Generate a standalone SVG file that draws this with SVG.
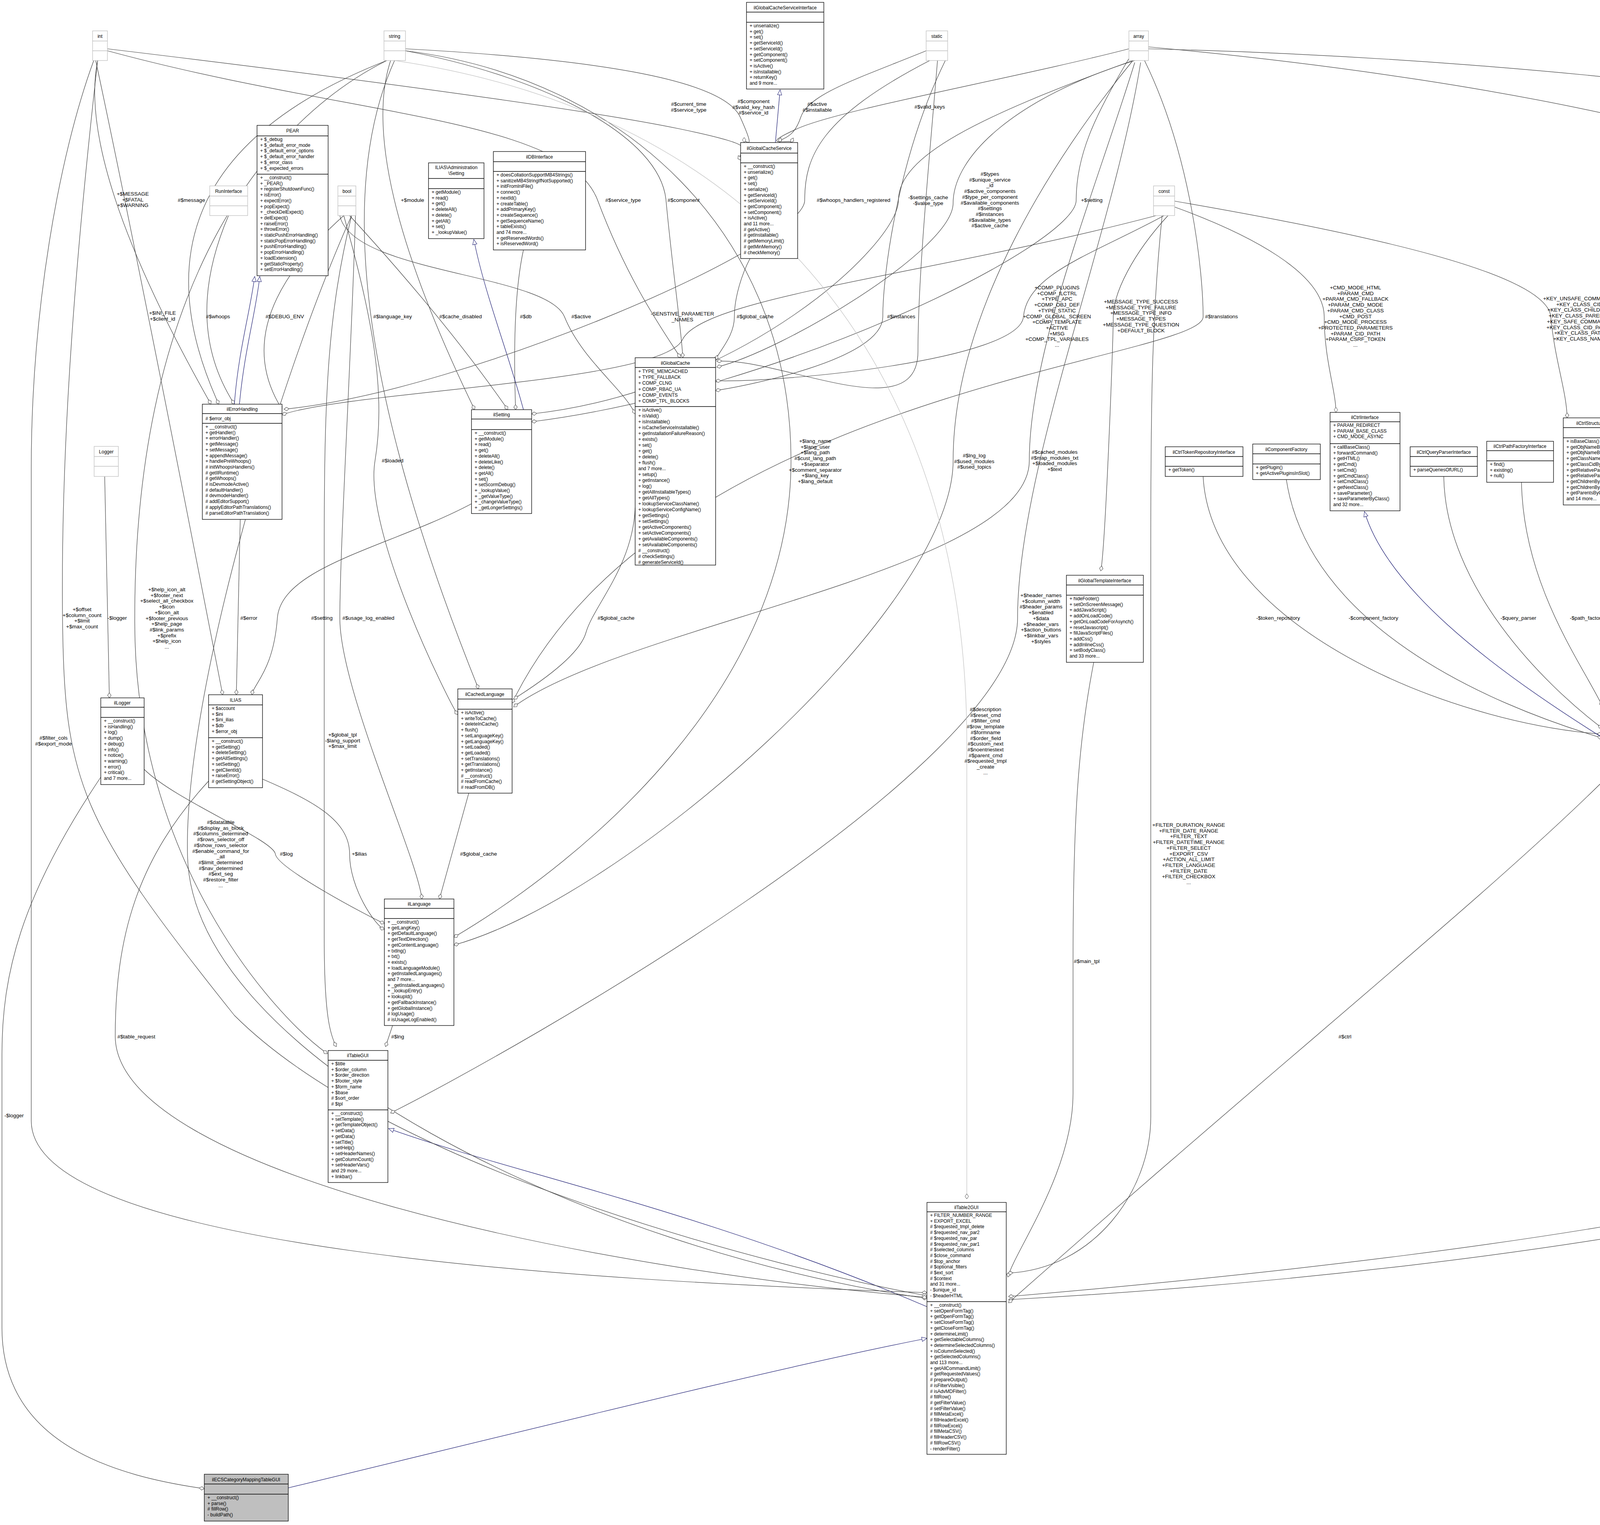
<svg xmlns="http://www.w3.org/2000/svg" width="5475" height="3905" viewBox="0 0 5475 3905">
<style>
text{font-family:"Liberation Sans",Arial,sans-serif;font-size:12px;fill:#000}
.h,.l{text-anchor:middle}
.l{font-size:13.5px}
.c rect{fill:#fff;stroke:#000;stroke-width:1.3}
.c line{stroke:#000;stroke-width:1.3}
.t rect{fill:#fff;stroke:#bfbfbf;stroke-width:1.3}
.t line{stroke:#bfbfbf;stroke-width:1.3}
.e path{fill:none;stroke:#404040;stroke-width:1.2;marker-end:url(#d)}
.e path.i{stroke:#191970;marker-end:url(#tr)}
.e path.g{stroke:#bfbfbf}
</style>
<defs>
<marker id="d" markerWidth="16" markerHeight="12" refX="14" refY="6" orient="auto" markerUnits="userSpaceOnUse"><path d="M1,6 L7.5,1.5 L14,6 L7.5,10.5 z" fill="#fff" stroke="#404040"/></marker>
<marker id="tr" markerWidth="16" markerHeight="14" refX="14" refY="7" orient="auto" markerUnits="userSpaceOnUse"><path d="M1,1.5 L14,7 L1,12.5 z" fill="#fff" stroke="#191970"/></marker>
</defs>
<rect width="5475" height="3905" fill="#fff"/>
<g id="connectors" class="e">
<path d="M250,155 Q195,425 540,1035"/>
<path d="M990,155 Q285,431 560,1035"/>
<path d="M585,552 Q467,828 600,1035"/>
<path d="M880,552 Q579,822 722,1048"/>
<path class="i" d="M600,1035 C610,900 640,800 652,708"/>
<path class="i" d="M613,1035 C625,900 655,800 665,708"/>
<path d="M245,155 Q352,655 570,1779"/>
<path d="M1000,155 Q912,424 1215,1049"/>
<path d="M1010,155 Q782,662 1225,1764"/>
<path d="M895,552 Q1142,821 1300,1049"/>
<path d="M1340,640 Q1310,777 1320,1049"/>
<path class="i" d="M1340,1049 C1300,900 1240,750 1213,613"/>
<path d="M275,125 C900,200 1500,280 1740,330 S1880,380 1896,410"/>
<path d="M1038,125 C1500,150 1850,200 1895,300 S1905,350 1905,365"/>
<path d="M2371,130 C2200,200 2070,240 2050,300 S2000,350 1995,365"/>
<path d="M2890,125 C2600,200 2150,280 2040,330 S2030,355 2025,365"/>
<path class="i" d="M1985,365 L1997,230"/>
<path d="M2400,155 C2380,400 2350,700 2350,900 S2000,915 1835,925"/>
<path d="M275,130 C900,300 1450,300 1530,513 S1700,850 1742,916"/>
<path d="M1038,130 C1400,200 1690,350 1705,513 S1745,850 1748,916"/>
<path d="M2380,155 C2100,300 2060,400 2060,513 S1200,1000 727,1048"/>
<path d="M2900,155 C2500,300 2300,400 2300,513 S1900,1000 1361,1060"/>
<path d="M2905,155 C2600,250 2440,400 2440,520 S2000,900 1835,940"/>
<path d="M2890,150 C2800,300 2755,400 2755,513 S2000,1000 1361,1080"/>
<path d="M870,552 C900,700 1400,700 1445,811 S1600,1000 1626,1060"/>
<path d="M2960,552 C2400,700 1800,760 1747,870 S900,1000 722,1062"/>
<path d="M1920,662 C1900,700 1880,760 1880,811 S1840,900 1832,922"/>
<path d="M2420,155 C2300,400 2260,700 2260,811 S1900,990 1832,1000"/>
<path d="M2980,552 C2800,650 2630,700 2620,811 S2000,980 1832,975"/>
<path d="M2990,552 C2900,650 2850,750 2850,811 S2830,1400 2818,1462"/>
<path d="M2930,155 C3050,400 3080,700 3080,811 S1700,1000 1311,1800"/>
<path d="M3007,530 C3200,600 3390,700 3390,811 S3420,1000 3420,1056"/>
<path d="M3007,515 C3500,600 3960,700 3970,811 S4010,1000 4012,1070"/>
<path d="M2940,120 C3800,200 5050,400 5050,811 S5074,1500 4298,1975"/>
<path d="M2940,125 C4000,150 5340,300 5340,520 L5340,2740 C5340,3000 4000,3250 2582,3328"/>
<path d="M5205,1220 L5224,1400 L5224,2720 C5224,3000 4000,3200 2582,3320"/>
<path d="M5195,1220 C5150,1400 5100,1500 5100,1583 S4900,1850 4298,1960"/>
<path d="M4975,1220 C4970,1400 4960,1700 4298,1955"/>
<path d="M4800,1293 C4780,1600 4600,1800 4298,1950"/>
<path d="M4588,1228 C4590,1500 4450,1750 4298,1840"/>
<path d="M4378,1235 C4360,1400 4300,1600 4285,1722"/>
<path d="M4245,1220 C4240,1400 4215,1600 4212,1722"/>
<path d="M4098,1293 C4100,1400 4120,1600 4143,1722"/>
<path d="M3895,1235 C3900,1500 4050,1700 4102,1808"/>
<path d="M3696,1220 C3700,1500 3950,1750 4102,1865"/>
<path d="M3293,1228 C3350,1600 3800,1800 4102,1890"/>
<path d="M3080,1220 C3100,1600 3700,1850 4102,1880"/>
<path class="i" d="M4104,1890 C3800,1700 3550,1500 3493,1310"/>
<path d="M4104,2000 C3800,2300 3300,2700 2582,3336"/>
<path d="M2800,1696 C2760,1900 2747,2100 2747,2462 L2747,2800 C2747,3000 2600,3200 2580,3270"/>
<path d="M2975,552 C2950,800 2946,1000 2946,1400 L2946,2860 C2946,3050 2800,3250 2580,3260"/>
<path class="i" d="M2373,3346 C1800,3100 1300,3000 995,2890"/>
<path class="i" d="M738,3810 C1400,3650 2000,3500 2373,3427"/>
<path d="M258,1990 C50,2300 5,2500 5,2700 L5,3400 C5,3700 300,3780 523,3812"/>
<path d="M268,1220 L280,1787"/>
<path d="M240,155 C150,400 80,800 80,1200 L80,2870 C80,3200 1500,3280 2373,3310"/>
<path d="M250,155 C200,600 155,1100 160,1580 C165,2000 200,2100 600,2600 C1000,3000 2000,3250 2373,3318"/>
<path d="M990,155 C700,300 345,700 345,1580 C340,2200 700,2600 838,2698"/>
<path d="M900,552 C700,1000 470,1800 480,2190 C490,2700 1500,3200 2373,3325"/>
<path d="M615,1330 L605,1779"/>
<path d="M1207,1290 C1000,1400 720,1450 710,1583 S650,1750 645,1779"/>
<path d="M910,552 C900,900 870,1400 870,1583 S1070,2200 1080,2302"/>
<path d="M1626,1300 C1620,1450 1520,1550 1500,1620 S1330,1780 1315,1790"/>
<path d="M880,552 C950,800 990,1000 960,1180 S1150,1800 1172,1830"/>
<path d="M369,1970 C450,2050 700,2150 705,2187 S950,2350 984,2365"/>
<path d="M672,1995 C800,2050 895,2100 895,2187 S960,2370 984,2380"/>
<path d="M1200,2031 L1125,2302"/>
<path d="M1038,130 C1600,200 2025,600 2025,1180 S1500,2200 1162,2400"/>
<path d="M2900,155 C2700,400 2440,800 2440,1180 S1600,2300 1162,2420"/>
<path d="M2905,160 C2800,500 2635,900 2635,1180 S1600,1600 1315,1810"/>
<path d="M2920,160 C2850,600 2605,1200 2605,1583 S1300,2700 1000,2850"/>
<path class="g" d="M1010,155 C2000,300 2475,1000 2475,1900 L2475,3070"/>
<path d="M534,2000 C350,2200 295,2400 295,2655 C300,3000 1500,3250 2373,3322"/>
<path d="M1005,2626 L987,2680"/>
<path d="M900,552 C840,800 830,1000 830,1400 L830,2400 C830,2600 845,2650 861,2680"/>
</g>
<g id="labels">
<text class="l" x="340" y="501"><tspan x="340">+$MESSAGE</tspan><tspan x="340" dy="14.7">+$FATAL</tspan><tspan x="340" dy="14.7">+$WARNING</tspan></text>
<text class="l" x="490" y="517">#$message</text>
<text class="l" x="1056" y="517">+$module</text>
<text class="l" x="416" y="806"><tspan x="416">+$INI_FILE</tspan><tspan x="416" dy="14.7">+$client_id</tspan></text>
<text class="l" x="558" y="815">#$whoops</text>
<text class="l" x="729" y="815">#$DEBUG_ENV</text>
<text class="l" x="1005" y="815">#$language_key</text>
<text class="l" x="1179" y="815">#$cache_disabled</text>
<text class="l" x="1346" y="815">#$db</text>
<text class="l" x="1763" y="271"><tspan x="1763">#$current_time</tspan><tspan x="1763" dy="14.7">#$service_type</tspan></text>
<text class="l" x="1929" y="264"><tspan x="1929">#$component</tspan><tspan x="1929" dy="14.7">#$valid_key_hash</tspan><tspan x="1929" dy="14.7">#$service_id</tspan></text>
<text class="l" x="2092" y="271"><tspan x="2092">#$active</tspan><tspan x="2092" dy="14.7">#$installable</tspan></text>
<text class="l" x="2380" y="278">#$valid_keys</text>
<text class="l" x="1595" y="517">#$service_type</text>
<text class="l" x="1750" y="517">#$component</text>
<text class="l" x="2185" y="517">#$whoops_handlers_registered</text>
<text class="l" x="2376" y="510"><tspan x="2376">-$settings_cache</tspan><tspan x="2376" dy="14.7">-$value_type</tspan></text>
<text class="l" x="2534" y="450"><tspan x="2534">#$types</tspan><tspan x="2534" dy="14.7">#$unique_service</tspan><tspan x="2534" dy="14.7">_id</tspan><tspan x="2534" dy="14.7">#$active_components</tspan><tspan x="2534" dy="14.7">#$type_per_component</tspan><tspan x="2534" dy="14.7">#$available_components</tspan><tspan x="2534" dy="14.7">#$settings</tspan><tspan x="2534" dy="14.7">#$instances</tspan><tspan x="2534" dy="14.7">#$available_types</tspan><tspan x="2534" dy="14.7">#$active_cache</tspan></text>
<text class="l" x="2795" y="517">+$setting</text>
<text class="l" x="1488" y="815">#$active</text>
<text class="l" x="1747" y="808"><tspan x="1747">-SENSTIVE_PARAMETER</tspan><tspan x="1747" dy="14.7">_NAMES</tspan></text>
<text class="l" x="1933" y="815">#$global_cache</text>
<text class="l" x="2307" y="815">#$instances</text>
<text class="l" x="2706" y="741"><tspan x="2706">+COMP_PLUGINS</tspan><tspan x="2706" dy="14.7">+COMP_ILCTRL</tspan><tspan x="2706" dy="14.7">+TYPE_APC</tspan><tspan x="2706" dy="14.7">+COMP_OBJ_DEF</tspan><tspan x="2706" dy="14.7">+TYPE_STATIC</tspan><tspan x="2706" dy="14.7">+COMP_GLOBAL_SCREEN</tspan><tspan x="2706" dy="14.7">+COMP_TEMPLATE</tspan><tspan x="2706" dy="14.7">+ACTIVE</tspan><tspan x="2706" dy="14.7">+MSG</tspan><tspan x="2706" dy="14.7">+COMP_TPL_VARIABLES</tspan><tspan x="2706" dy="14.7">...</tspan></text>
<text class="l" x="2921" y="777"><tspan x="2921">+MESSAGE_TYPE_SUCCESS</tspan><tspan x="2921" dy="14.7">+MESSAGE_TYPE_FAILURE</tspan><tspan x="2921" dy="14.7">+MESSAGE_TYPE_INFO</tspan><tspan x="2921" dy="14.7">+MESSAGE_TYPES</tspan><tspan x="2921" dy="14.7">+MESSAGE_TYPE_QUESTION</tspan><tspan x="2921" dy="14.7">+DEFAULT_BLOCK</tspan></text>
<text class="l" x="3127" y="815">#$translations</text>
<text class="l" x="3470" y="741"><tspan x="3470">+CMD_MODE_HTML</tspan><tspan x="3470" dy="14.7">+PARAM_CMD</tspan><tspan x="3470" dy="14.7">+PARAM_CMD_FALLBACK</tspan><tspan x="3470" dy="14.7">+PARAM_CMD_MODE</tspan><tspan x="3470" dy="14.7">+PARAM_CMD_CLASS</tspan><tspan x="3470" dy="14.7">+CMD_POST</tspan><tspan x="3470" dy="14.7">+CMD_MODE_PROCESS</tspan><tspan x="3470" dy="14.7">+PROTECTED_PARAMETERS</tspan><tspan x="3470" dy="14.7">+PARAM_CID_PATH</tspan><tspan x="3470" dy="14.7">+PARAM_CSRF_TOKEN</tspan><tspan x="3470" dy="14.7">...</tspan></text>
<text class="l" x="4043" y="769"><tspan x="4043">+KEY_UNSAFE_COMMANDS</tspan><tspan x="4043" dy="14.7">+KEY_CLASS_CID</tspan><tspan x="4043" dy="14.7">+KEY_CLASS_CHILDREN</tspan><tspan x="4043" dy="14.7">+KEY_CLASS_PARENTS</tspan><tspan x="4043" dy="14.7">+KEY_SAFE_COMMANDS</tspan><tspan x="4043" dy="14.7">+KEY_CLASS_CID_PATHS</tspan><tspan x="4043" dy="14.7">+KEY_CLASS_PATH</tspan><tspan x="4043" dy="14.7">+KEY_CLASS_NAME</tspan></text>
<text class="l" x="5086" y="815">-$stacktrace</text>
<text class="l" x="1005" y="1184">#$loaded</text>
<text class="l" x="210" y="1565"><tspan x="210">+$offset</tspan><tspan x="210" dy="14.7">+$column_count</tspan><tspan x="210" dy="14.7">+$limit</tspan><tspan x="210" dy="14.7">+$max_count</tspan></text>
<text class="l" x="300" y="1587">-$logger</text>
<text class="l" x="427" y="1514"><tspan x="427">+$help_icon_alt</tspan><tspan x="427" dy="14.7">+$footer_next</tspan><tspan x="427" dy="14.7">+$select_all_checkbox</tspan><tspan x="427" dy="14.7">+$icon</tspan><tspan x="427" dy="14.7">+$icon_alt</tspan><tspan x="427" dy="14.7">+$footer_previous</tspan><tspan x="427" dy="14.7">+$help_page</tspan><tspan x="427" dy="14.7">#$link_params</tspan><tspan x="427" dy="14.7">+$prefix</tspan><tspan x="427" dy="14.7">+$help_icon</tspan><tspan x="427" dy="14.7">...</tspan></text>
<text class="l" x="637" y="1587">#$error</text>
<text class="l" x="824" y="1587">#$setting</text>
<text class="l" x="943" y="1587">#$usage_log_enabled</text>
<text class="l" x="1577" y="1587">#$global_cache</text>
<text class="l" x="137" y="1894"><tspan x="137">#$filter_cols</tspan><tspan x="137" dy="14.7">#$export_mode</tspan></text>
<text class="l" x="877" y="1886"><tspan x="877">+$global_tpl</tspan><tspan x="877" dy="14.7">-$lang_support</tspan><tspan x="877" dy="14.7">+$max_limit</tspan></text>
<text class="l" x="565" y="2110"><tspan x="565">#$datatable</tspan><tspan x="565" dy="14.7">#$display_as_block</tspan><tspan x="565" dy="14.7">#$columns_determined</tspan><tspan x="565" dy="14.7">#$rows_selector_off</tspan><tspan x="565" dy="14.7">#$show_rows_selector</tspan><tspan x="565" dy="14.7">#$enable_command_for</tspan><tspan x="565" dy="14.7">_all</tspan><tspan x="565" dy="14.7">#$limit_determined</tspan><tspan x="565" dy="14.7">#$nav_determined</tspan><tspan x="565" dy="14.7">#$ext_seg</tspan><tspan x="565" dy="14.7">#$restore_filter</tspan><tspan x="565" dy="14.7">...</tspan></text>
<text class="l" x="733" y="2191">#$log</text>
<text class="l" x="920" y="2191">+$ilias</text>
<text class="l" x="1225" y="2191">#$global_cache</text>
<text class="l" x="2087" y="1134"><tspan x="2087">+$lang_name</tspan><tspan x="2087" dy="14.7">+$lang_user</tspan><tspan x="2087" dy="14.7">+$lang_path</tspan><tspan x="2087" dy="14.7">#$cust_lang_path</tspan><tspan x="2087" dy="14.7">+$separator</tspan><tspan x="2087" dy="14.7">+$comment_separator</tspan><tspan x="2087" dy="14.7">+$lang_key</tspan><tspan x="2087" dy="14.7">+$lang_default</tspan></text>
<text class="l" x="2494" y="1171"><tspan x="2494">#$lng_log</tspan><tspan x="2494" dy="14.7">#$used_modules</tspan><tspan x="2494" dy="14.7">#$used_topics</tspan></text>
<text class="l" x="2700" y="1162"><tspan x="2700">#$cached_modules</tspan><tspan x="2700" dy="14.7">#$map_modules_txt</tspan><tspan x="2700" dy="14.7">+$loaded_modules</tspan><tspan x="2700" dy="14.7">+$text</tspan></text>
<text class="l" x="2665" y="1529"><tspan x="2665">+$header_names</tspan><tspan x="2665" dy="14.7">+$column_width</tspan><tspan x="2665" dy="14.7">#$header_params</tspan><tspan x="2665" dy="14.7">+$enabled</tspan><tspan x="2665" dy="14.7">+$data</tspan><tspan x="2665" dy="14.7">+$header_vars</tspan><tspan x="2665" dy="14.7">+$action_buttons</tspan><tspan x="2665" dy="14.7">+$linkbar_vars</tspan><tspan x="2665" dy="14.7">+$styles</tspan></text>
<text class="l" x="3272" y="1587">-$token_repository</text>
<text class="l" x="3516" y="1587">-$component_factory</text>
<text class="l" x="2523" y="1821"><tspan x="2523">#$description</tspan><tspan x="2523" dy="14.7">#$reset_cmd</tspan><tspan x="2523" dy="14.7">#$filter_cmd</tspan><tspan x="2523" dy="14.7">#$row_template</tspan><tspan x="2523" dy="14.7">#$formname</tspan><tspan x="2523" dy="14.7">#$order_field</tspan><tspan x="2523" dy="14.7">#$custom_next</tspan><tspan x="2523" dy="14.7">#$noentriestext</tspan><tspan x="2523" dy="14.7">#$parent_cmd</tspan><tspan x="2523" dy="14.7">#$requested_tmpl</tspan><tspan x="2523" dy="14.7">_create</tspan><tspan x="2523" dy="14.7">...</tspan></text>
<text class="l" x="3043" y="2117"><tspan x="3043">+FILTER_DURATION_RANGE</tspan><tspan x="3043" dy="14.7">+FILTER_DATE_RANGE</tspan><tspan x="3043" dy="14.7">+FILTER_TEXT</tspan><tspan x="3043" dy="14.7">+FILTER_DATETIME_RANGE</tspan><tspan x="3043" dy="14.7">+FILTER_SELECT</tspan><tspan x="3043" dy="14.7">+EXPORT_CSV</tspan><tspan x="3043" dy="14.7">+ACTION_ALL_LIMIT</tspan><tspan x="3043" dy="14.7">+FILTER_LANGUAGE</tspan><tspan x="3043" dy="14.7">+FILTER_DATE</tspan><tspan x="3043" dy="14.7">+FILTER_CHECKBOX</tspan><tspan x="3043" dy="14.7">...</tspan></text>
<text class="l" x="3887" y="1587">-$query_parser</text>
<text class="l" x="4062" y="1587">-$path_factory</text>
<text class="l" x="4175" y="1587">-$structure</text>
<text class="l" x="4258" y="1587">-$refinery</text>
<text class="l" x="4397" y="1579"><tspan x="4397">-$get_parameters</tspan><tspan x="4397" dy="14.7">-$post_parameters</tspan></text>
<text class="l" x="4603" y="1587">-$response_sender</text>
<text class="l" x="4799" y="1587">-$context</text>
<text class="l" x="4997" y="1587">-$server_request</text>
<text class="l" x="5163" y="1587">-$exec_object</text>
<text class="l" x="5404" y="1827"><tspan x="5404">#$raw_post_data</tspan><tspan x="5404" dy="14.7">#$selected_column</tspan><tspan x="5404" dy="14.7">#$filters</tspan><tspan x="5404" dy="14.7">#$header_commands</tspan><tspan x="5404" dy="14.7">#$selected_filter</tspan><tspan x="5404" dy="14.7">#$row_data</tspan><tspan x="5404" dy="14.7">#$column</tspan><tspan x="5404" dy="14.7">#$selectable_columns</tspan><tspan x="5404" dy="14.7">#$buttons</tspan><tspan x="5404" dy="14.7">#$multi_sel_buttons</tspan><tspan x="5404" dy="14.7">...</tspan></text>
<text class="l" x="349" y="2659">#$table_request</text>
<text class="l" x="36" y="2861">-$logger</text>
<text class="l" x="1018" y="2659">#$lng</text>
<text class="l" x="2782" y="2466">#$main_tpl</text>
<text class="l" x="3443" y="2659">#$ctrl</text>
<text class="l" x="5266" y="2466">#$parent_obj</text>
</g>
<g id="n_int" class="t"><rect x="237" y="79" width="38" height="76"/><line x1="237" y1="105" x2="275" y2="105"/><line x1="237" y1="130" x2="275" y2="130"/><text class="h" x="256" y="97">int</text></g>
<g id="n_string" class="t"><rect x="983" y="79" width="55" height="76"/><line x1="983" y1="105" x2="1038" y2="105"/><line x1="983" y1="130" x2="1038" y2="130"/><text class="h" x="1010" y="97">string</text></g>
<g id="n_static" class="t"><rect x="2371" y="79" width="55" height="76"/><line x1="2371" y1="105" x2="2426" y2="105"/><line x1="2371" y1="130" x2="2426" y2="130"/><text class="h" x="2398" y="97">static</text></g>
<g id="n_array" class="t"><rect x="2890" y="79" width="50" height="76"/><line x1="2890" y1="105" x2="2940" y2="105"/><line x1="2890" y1="130" x2="2940" y2="130"/><text class="h" x="2915" y="97">array</text></g>
<g id="n_const" class="t"><rect x="2953" y="476" width="54" height="76"/><line x1="2953" y1="502" x2="3007" y2="502"/><line x1="2953" y1="527" x2="3007" y2="527"/><text class="h" x="2980" y="494">const</text></g>
<g id="n_RunInterface" class="t"><rect x="537" y="476" width="97" height="76"/><line x1="537" y1="502" x2="634" y2="502"/><line x1="537" y1="527" x2="634" y2="527"/><text class="h" x="585" y="494">RunInterface</text></g>
<g id="n_bool" class="t"><rect x="865" y="476" width="46" height="76"/><line x1="865" y1="502" x2="911" y2="502"/><line x1="865" y1="527" x2="911" y2="527"/><text class="h" x="888" y="494">bool</text></g>
<g id="n_Logger" class="t"><rect x="241" y="1143" width="62" height="77"/><line x1="241" y1="1169" x2="303" y2="1169"/><line x1="241" y1="1194" x2="303" y2="1194"/><text class="h" x="272" y="1161">Logger</text></g>
<g id="n_Refinery" class="t"><rect x="4212" y="1144" width="71" height="76"/><line x1="4212" y1="1170" x2="4283" y2="1170"/><line x1="4212" y1="1195" x2="4283" y2="1195"/><text class="h" x="4247" y="1162">Refinery</text></g>
<g id="n_ServerRequestInterface" class="t"><rect x="4898" y="1144" width="161" height="76"/><line x1="4898" y1="1170" x2="5059" y2="1170"/><line x1="4898" y1="1195" x2="5059" y2="1195"/><text class="h" x="4978" y="1162">ServerRequestInterface</text></g>
<g id="n_object" class="t"><rect x="5175" y="1144" width="58" height="76"/><line x1="5175" y1="1170" x2="5233" y2="1170"/><line x1="5175" y1="1195" x2="5233" y2="1195"/><text class="h" x="5204" y="1162">object</text></g>
<g id="n_PEAR" class="c"><rect x="658" y="321" width="182" height="385"/><line x1="658" y1="348" x2="840" y2="348"/><line x1="658" y1="446" x2="840" y2="446"/><text class="h" x="749" y="339">PEAR</text>
<text x="666" y="361"><tspan x="666">+ $_debug</tspan><tspan x="666" dy="14.7">+ $_default_error_mode</tspan><tspan x="666" dy="14.7">+ $_default_error_options</tspan><tspan x="666" dy="14.7">+ $_default_error_handler</tspan><tspan x="666" dy="14.7">+ $_error_class</tspan><tspan x="666" dy="14.7">+ $_expected_errors</tspan></text>
<text x="666" y="459"><tspan x="666">+ __construct()</tspan><tspan x="666" dy="14.7">+ _PEAR()</tspan><tspan x="666" dy="14.7">+ registerShutdownFunc()</tspan><tspan x="666" dy="14.7">+ isError()</tspan><tspan x="666" dy="14.7">+ expectError()</tspan><tspan x="666" dy="14.7">+ popExpect()</tspan><tspan x="666" dy="14.7">+ _checkDelExpect()</tspan><tspan x="666" dy="14.7">+ delExpect()</tspan><tspan x="666" dy="14.7">+ raiseError()</tspan><tspan x="666" dy="14.7">+ throwError()</tspan><tspan x="666" dy="14.7">+ staticPushErrorHandling()</tspan><tspan x="666" dy="14.7">+ staticPopErrorHandling()</tspan><tspan x="666" dy="14.7">+ pushErrorHandling()</tspan><tspan x="666" dy="14.7">+ popErrorHandling()</tspan><tspan x="666" dy="14.7">+ loadExtension()</tspan><tspan x="666" dy="14.7">+ getStaticProperty()</tspan><tspan x="666" dy="14.7">+ setErrorHandling()</tspan></text></g>
<g id="n_AdminSetting" class="c"><rect x="1097" y="417" width="142" height="194"/><line x1="1097" y1="457" x2="1239" y2="457"/><line x1="1097" y1="483" x2="1239" y2="483"/><text class="h" x="1168" y="433"><tspan x="1168">ILIAS\Administration</tspan><tspan x="1168" dy="15">\Setting</tspan></text>
<text x="1105" y="496"><tspan x="1105">+ getModule()</tspan><tspan x="1105" dy="14.7">+ read()</tspan><tspan x="1105" dy="14.7">+ get()</tspan><tspan x="1105" dy="14.7">+ deleteAll()</tspan><tspan x="1105" dy="14.7">+ delete()</tspan><tspan x="1105" dy="14.7">+ getAll()</tspan><tspan x="1105" dy="14.7">+ set()</tspan><tspan x="1105" dy="14.7">+ _lookupValue()</tspan></text></g>
<g id="n_ilDBInterface" class="c"><rect x="1263" y="388" width="236" height="252"/><line x1="1263" y1="414" x2="1499" y2="414"/><line x1="1263" y1="439" x2="1499" y2="439"/><text class="h" x="1381" y="406">ilDBInterface</text>
<text x="1271" y="452"><tspan x="1271">+ doesCollationSupportMB4Strings()</tspan><tspan x="1271" dy="14.7">+ sanitizeMB4StringIfNotSupported()</tspan><tspan x="1271" dy="14.7">+ initFromIniFile()</tspan><tspan x="1271" dy="14.7">+ connect()</tspan><tspan x="1271" dy="14.7">+ nextId()</tspan><tspan x="1271" dy="14.7">+ createTable()</tspan><tspan x="1271" dy="14.7">+ addPrimaryKey()</tspan><tspan x="1271" dy="14.7">+ createSequence()</tspan><tspan x="1271" dy="14.7">+ getSequenceName()</tspan><tspan x="1271" dy="14.7">+ tableExists()</tspan><tspan x="1271" dy="14.7">and 74 more...</tspan><tspan x="1271" dy="14.7">+ getReservedWords()</tspan><tspan x="1271" dy="14.7">+ isReservedWord()</tspan></text></g>
<g id="n_ilGlobalCacheServiceInterface" class="c"><rect x="1911" y="6" width="198" height="222"/><line x1="1911" y1="31" x2="2109" y2="31"/><line x1="1911" y1="57" x2="2109" y2="57"/><text class="h" x="2010" y="24">ilGlobalCacheServiceInterface</text>
<text x="1919" y="70"><tspan x="1919">+ unserialize()</tspan><tspan x="1919" dy="14.7">+ get()</tspan><tspan x="1919" dy="14.7">+ set()</tspan><tspan x="1919" dy="14.7">+ getServiceId()</tspan><tspan x="1919" dy="14.7">+ setServiceId()</tspan><tspan x="1919" dy="14.7">+ getComponent()</tspan><tspan x="1919" dy="14.7">+ setComponent()</tspan><tspan x="1919" dy="14.7">+ isActive()</tspan><tspan x="1919" dy="14.7">+ isInstallable()</tspan><tspan x="1919" dy="14.7">+ returnKey()</tspan><tspan x="1919" dy="14.7">and 9 more...</tspan></text></g>
<g id="n_ilGlobalCacheService" class="c"><rect x="1896" y="365" width="146" height="297"/><line x1="1896" y1="392" x2="2042" y2="392"/><line x1="1896" y1="417" x2="2042" y2="417"/><text class="h" x="1969" y="384">ilGlobalCacheService</text>
<text x="1904" y="430"><tspan x="1904">+ __construct()</tspan><tspan x="1904" dy="14.7">+ unserialize()</tspan><tspan x="1904" dy="14.7">+ get()</tspan><tspan x="1904" dy="14.7">+ set()</tspan><tspan x="1904" dy="14.7">+ serialize()</tspan><tspan x="1904" dy="14.7">+ getServiceId()</tspan><tspan x="1904" dy="14.7">+ setServiceId()</tspan><tspan x="1904" dy="14.7">+ getComponent()</tspan><tspan x="1904" dy="14.7">+ setComponent()</tspan><tspan x="1904" dy="14.7">+ isActive()</tspan><tspan x="1904" dy="14.7">and 11 more...</tspan><tspan x="1904" dy="14.7"># getActive()</tspan><tspan x="1904" dy="14.7"># getInstallable()</tspan><tspan x="1904" dy="14.7"># getMemoryLimit()</tspan><tspan x="1904" dy="14.7"># getMinMemory()</tspan><tspan x="1904" dy="14.7"># checkMemory()</tspan></text></g>
<g id="n_ilGlobalCache" class="c"><rect x="1626" y="916" width="206" height="531"/><line x1="1626" y1="941" x2="1832" y2="941"/><line x1="1626" y1="1041" x2="1832" y2="1041"/><text class="h" x="1729" y="934">ilGlobalCache</text>
<text x="1634" y="955"><tspan x="1634">+ TYPE_MEMCACHED</tspan><tspan x="1634" dy="15.2">+ TYPE_FALLBACK</tspan><tspan x="1634" dy="15.2">+ COMP_CLNG</tspan><tspan x="1634" dy="15.2">+ COMP_RBAC_UA</tspan><tspan x="1634" dy="15.2">+ COMP_EVENTS</tspan><tspan x="1634" dy="15.2">+ COMP_TPL_BLOCKS</tspan></text>
<text x="1634" y="1054"><tspan x="1634">+ isActive()</tspan><tspan x="1634" dy="15">+ isValid()</tspan><tspan x="1634" dy="15">+ isInstallable()</tspan><tspan x="1634" dy="15">+ isCacheServiceInstallable()</tspan><tspan x="1634" dy="15">+ getInstallationFailureReason()</tspan><tspan x="1634" dy="15">+ exists()</tspan><tspan x="1634" dy="15">+ set()</tspan><tspan x="1634" dy="15">+ get()</tspan><tspan x="1634" dy="15">+ delete()</tspan><tspan x="1634" dy="15">+ flush()</tspan><tspan x="1634" dy="15">and 7 more...</tspan><tspan x="1634" dy="15">+ setup()</tspan><tspan x="1634" dy="15">+ getInstance()</tspan><tspan x="1634" dy="15">+ log()</tspan><tspan x="1634" dy="15">+ getAllInstallableTypes()</tspan><tspan x="1634" dy="15">+ getAllTypes()</tspan><tspan x="1634" dy="15">+ lookupServiceClassName()</tspan><tspan x="1634" dy="15">+ lookupServiceConfigName()</tspan><tspan x="1634" dy="15">+ getSettings()</tspan><tspan x="1634" dy="15">+ setSettings()</tspan><tspan x="1634" dy="15">+ getActiveComponents()</tspan><tspan x="1634" dy="15">+ setActiveComponents()</tspan><tspan x="1634" dy="15">+ getAvailableComponents()</tspan><tspan x="1634" dy="15">+ setAvailableComponents()</tspan><tspan x="1634" dy="15"># __construct()</tspan><tspan x="1634" dy="15"># checkSettings()</tspan><tspan x="1634" dy="15"># generateServiceId()</tspan></text></g>
<g id="n_ilErrorHandling" class="c"><rect x="518" y="1035" width="204" height="295"/><line x1="518" y1="1059" x2="722" y2="1059"/><line x1="518" y1="1084" x2="722" y2="1084"/><text class="h" x="620" y="1052">ilErrorHandling</text>
<text x="526" y="1076"># $error_obj</text>
<text x="526" y="1097"><tspan x="526">+ __construct()</tspan><tspan x="526" dy="14.7">+ getHandler()</tspan><tspan x="526" dy="14.7">+ errorHandler()</tspan><tspan x="526" dy="14.7">+ getMessage()</tspan><tspan x="526" dy="14.7">+ setMessage()</tspan><tspan x="526" dy="14.7">+ appendMessage()</tspan><tspan x="526" dy="14.7">+ handlePreWhoops()</tspan><tspan x="526" dy="14.7"># initWhoopsHandlers()</tspan><tspan x="526" dy="14.7"># getIlRuntime()</tspan><tspan x="526" dy="14.7"># getWhoops()</tspan><tspan x="526" dy="14.7"># isDevmodeActive()</tspan><tspan x="526" dy="14.7"># defaultHandler()</tspan><tspan x="526" dy="14.7"># devmodeHandler()</tspan><tspan x="526" dy="14.7"># addEditorSupport()</tspan><tspan x="526" dy="14.7"># applyEditorPathTranslations()</tspan><tspan x="526" dy="14.7"># parseEditorPathTranslation()</tspan></text></g>
<g id="n_ilSetting" class="c"><rect x="1207" y="1049" width="154" height="266"/><line x1="1207" y1="1073" x2="1361" y2="1073"/><line x1="1207" y1="1100" x2="1361" y2="1100"/><text class="h" x="1284" y="1066">ilSetting</text>
<text x="1215" y="1113"><tspan x="1215">+ __construct()</tspan><tspan x="1215" dy="14.7">+ getModule()</tspan><tspan x="1215" dy="14.7">+ read()</tspan><tspan x="1215" dy="14.7">+ get()</tspan><tspan x="1215" dy="14.7">+ deleteAll()</tspan><tspan x="1215" dy="14.7">+ deleteLike()</tspan><tspan x="1215" dy="14.7">+ delete()</tspan><tspan x="1215" dy="14.7">+ getAll()</tspan><tspan x="1215" dy="14.7">+ set()</tspan><tspan x="1215" dy="14.7">+ setScormDebug()</tspan><tspan x="1215" dy="14.7">+ _lookupValue()</tspan><tspan x="1215" dy="14.7">+ _getValueType()</tspan><tspan x="1215" dy="14.7">+ _changeValueType()</tspan><tspan x="1215" dy="14.7">+ _getLongerSettings()</tspan></text></g>
<g id="n_ilLogger" class="c"><rect x="258" y="1787" width="111" height="222"/><line x1="258" y1="1811" x2="369" y2="1811"/><line x1="258" y1="1837" x2="369" y2="1837"/><text class="h" x="313" y="1804">ilLogger</text>
<text x="266" y="1850"><tspan x="266">+ __construct()</tspan><tspan x="266" dy="14.7">+ isHandling()</tspan><tspan x="266" dy="14.7">+ log()</tspan><tspan x="266" dy="14.7">+ dump()</tspan><tspan x="266" dy="14.7">+ debug()</tspan><tspan x="266" dy="14.7">+ info()</tspan><tspan x="266" dy="14.7">+ notice()</tspan><tspan x="266" dy="14.7">+ warning()</tspan><tspan x="266" dy="14.7">+ error()</tspan><tspan x="266" dy="14.7">+ critical()</tspan><tspan x="266" dy="14.7">and 7 more...</tspan></text></g>
<g id="n_ILIAS" class="c"><rect x="534" y="1779" width="138" height="238"/><line x1="534" y1="1805" x2="672" y2="1805"/><line x1="534" y1="1889" x2="672" y2="1889"/><text class="h" x="603" y="1797">ILIAS</text>
<text x="542" y="1818"><tspan x="542">+ $account</tspan><tspan x="542" dy="14.7">+ $ini</tspan><tspan x="542" dy="14.7">+ $ini_ilias</tspan><tspan x="542" dy="14.7">+ $db</tspan><tspan x="542" dy="14.7">+ $error_obj</tspan></text>
<text x="542" y="1902"><tspan x="542">+ __construct()</tspan><tspan x="542" dy="14.7">+ getSetting()</tspan><tspan x="542" dy="14.7">+ deleteSetting()</tspan><tspan x="542" dy="14.7">+ getAllSettings()</tspan><tspan x="542" dy="14.7">+ setSetting()</tspan><tspan x="542" dy="14.7">+ getClientId()</tspan><tspan x="542" dy="14.7">+ raiseError()</tspan><tspan x="542" dy="14.7"># getSettingObject()</tspan></text></g>
<g id="n_ilCachedLanguage" class="c"><rect x="1172" y="1764" width="139" height="267"/><line x1="1172" y1="1790" x2="1311" y2="1790"/><line x1="1172" y1="1816" x2="1311" y2="1816"/><text class="h" x="1241" y="1782">ilCachedLanguage</text>
<text x="1180" y="1829"><tspan x="1180">+ isActive()</tspan><tspan x="1180" dy="14.7">+ writeToCache()</tspan><tspan x="1180" dy="14.7">+ deleteInCache()</tspan><tspan x="1180" dy="14.7">+ flush()</tspan><tspan x="1180" dy="14.7">+ setLanguageKey()</tspan><tspan x="1180" dy="14.7">+ getLanguageKey()</tspan><tspan x="1180" dy="14.7">+ setLoaded()</tspan><tspan x="1180" dy="14.7">+ getLoaded()</tspan><tspan x="1180" dy="14.7">+ setTranslations()</tspan><tspan x="1180" dy="14.7">+ getTranslations()</tspan><tspan x="1180" dy="14.7">+ getInstance()</tspan><tspan x="1180" dy="14.7"># __construct()</tspan><tspan x="1180" dy="14.7"># readFromCache()</tspan><tspan x="1180" dy="14.7"># readFromDB()</tspan></text></g>
<g id="n_ilLanguage" class="c"><rect x="984" y="2302" width="178" height="324"/><line x1="984" y1="2326" x2="1162" y2="2326"/><line x1="984" y1="2352" x2="1162" y2="2352"/><text class="h" x="1073" y="2319">ilLanguage</text>
<text x="992" y="2365"><tspan x="992">+ __construct()</tspan><tspan x="992" dy="14.7">+ getLangKey()</tspan><tspan x="992" dy="14.7">+ getDefaultLanguage()</tspan><tspan x="992" dy="14.7">+ getTextDirection()</tspan><tspan x="992" dy="14.7">+ getContentLanguage()</tspan><tspan x="992" dy="14.7">+ txtlng()</tspan><tspan x="992" dy="14.7">+ txt()</tspan><tspan x="992" dy="14.7">+ exists()</tspan><tspan x="992" dy="14.7">+ loadLanguageModule()</tspan><tspan x="992" dy="14.7">+ getInstalledLanguages()</tspan><tspan x="992" dy="14.7">and 7 more...</tspan><tspan x="992" dy="14.7">+ _getInstalledLanguages()</tspan><tspan x="992" dy="14.7">+ _lookupEntry()</tspan><tspan x="992" dy="14.7">+ lookupId()</tspan><tspan x="992" dy="14.7">+ getFallbackInstance()</tspan><tspan x="992" dy="14.7">+ getGlobalInstance()</tspan><tspan x="992" dy="14.7"># logUsage()</tspan><tspan x="992" dy="14.7"># isUsageLogEnabled()</tspan></text></g>
<g id="n_ilTableGUI" class="c"><rect x="840" y="2690" width="153" height="338"/><line x1="840" y1="2715" x2="993" y2="2715"/><line x1="840" y1="2842" x2="993" y2="2842"/><text class="h" x="916" y="2707">ilTableGUI</text>
<text x="848" y="2728"><tspan x="848">+ $title</tspan><tspan x="848" dy="14.7">+ $order_column</tspan><tspan x="848" dy="14.7">+ $order_direction</tspan><tspan x="848" dy="14.7">+ $footer_style</tspan><tspan x="848" dy="14.7">+ $form_name</tspan><tspan x="848" dy="14.7">+ $base</tspan><tspan x="848" dy="14.7"># $sort_order</tspan><tspan x="848" dy="14.7"># $tpl</tspan></text>
<text x="848" y="2855"><tspan x="848">+ __construct()</tspan><tspan x="848" dy="14.7">+ setTemplate()</tspan><tspan x="848" dy="14.7">+ getTemplateObject()</tspan><tspan x="848" dy="14.7">+ setData()</tspan><tspan x="848" dy="14.7">+ getData()</tspan><tspan x="848" dy="14.7">+ setTitle()</tspan><tspan x="848" dy="14.7">+ setHelp()</tspan><tspan x="848" dy="14.7">+ setHeaderNames()</tspan><tspan x="848" dy="14.7">+ getColumnCount()</tspan><tspan x="848" dy="14.7">+ setHeaderVars()</tspan><tspan x="848" dy="14.7">and 29 more...</tspan><tspan x="848" dy="14.7">+ linkbar()</tspan></text></g>
<g id="n_ilTable2GUI" class="c"><rect x="2373" y="3079" width="203" height="645"/><line x1="2373" y1="3103" x2="2576" y2="3103"/><line x1="2373" y1="3333" x2="2576" y2="3333"/><text class="h" x="2474" y="3096">ilTable2GUI</text>
<text x="2381" y="3116"><tspan x="2381">+ FILTER_NUMBER_RANGE</tspan><tspan x="2381" dy="14.7">+ EXPORT_EXCEL</tspan><tspan x="2381" dy="14.7"># $requested_tmpl_delete</tspan><tspan x="2381" dy="14.7"># $requested_nav_par2</tspan><tspan x="2381" dy="14.7"># $requested_nav_par</tspan><tspan x="2381" dy="14.7"># $requested_nav_par1</tspan><tspan x="2381" dy="14.7"># $selected_columns</tspan><tspan x="2381" dy="14.7"># $close_command</tspan><tspan x="2381" dy="14.7"># $top_anchor</tspan><tspan x="2381" dy="14.7"># $optional_filters</tspan><tspan x="2381" dy="14.7"># $ext_sort</tspan><tspan x="2381" dy="14.7"># $context</tspan><tspan x="2381" dy="14.7">and 31 more...</tspan><tspan x="2381" dy="14.7">- $unique_id</tspan><tspan x="2381" dy="14.7">- $headerHTML</tspan></text>
<text x="2381" y="3346"><tspan x="2381">+ __construct()</tspan><tspan x="2381" dy="14.7">+ setOpenFormTag()</tspan><tspan x="2381" dy="14.7">+ getOpenFormTag()</tspan><tspan x="2381" dy="14.7">+ setCloseFormTag()</tspan><tspan x="2381" dy="14.7">+ getCloseFormTag()</tspan><tspan x="2381" dy="14.7">+ determineLimit()</tspan><tspan x="2381" dy="14.7">+ getSelectableColumns()</tspan><tspan x="2381" dy="14.7">+ determineSelectedColumns()</tspan><tspan x="2381" dy="14.7">+ isColumnSelected()</tspan><tspan x="2381" dy="14.7">+ getSelectedColumns()</tspan><tspan x="2381" dy="14.7">and 113 more...</tspan><tspan x="2381" dy="14.7">+ getAllCommandLimit()</tspan><tspan x="2381" dy="14.7"># getRequestedValues()</tspan><tspan x="2381" dy="14.7"># prepareOutput()</tspan><tspan x="2381" dy="14.7"># isFilterVisible()</tspan><tspan x="2381" dy="14.7"># isAdvMDFilter()</tspan><tspan x="2381" dy="14.7"># fillRow()</tspan><tspan x="2381" dy="14.7"># getFilterValue()</tspan><tspan x="2381" dy="14.7"># setFilterValue()</tspan><tspan x="2381" dy="14.7"># fillMetaExcel()</tspan><tspan x="2381" dy="14.7"># fillHeaderExcel()</tspan><tspan x="2381" dy="14.7"># fillRowExcel()</tspan><tspan x="2381" dy="14.7"># fillMetaCSV()</tspan><tspan x="2381" dy="14.7"># fillHeaderCSV()</tspan><tspan x="2381" dy="14.7"># fillRowCSV()</tspan><tspan x="2381" dy="14.7">- renderFilter()</tspan></text></g>
<g id="n_ilECSCategoryMappingTableGUI" class="c"><rect x="523" y="3775" width="215" height="120" style="fill:#bfbfbf"/><line x1="523" y1="3800" x2="738" y2="3800"/><line x1="523" y1="3826" x2="738" y2="3826"/><text class="h" x="630" y="3793">ilECSCategoryMappingTableGUI</text>
<text x="531" y="3839"><tspan x="531">+ __construct()</tspan><tspan x="531" dy="14.7">+ parse()</tspan><tspan x="531" dy="14.7"># fillRow()</tspan><tspan x="531" dy="14.7">- buildPath()</tspan></text></g>
<g id="n_ilGlobalTemplateInterface" class="c"><rect x="2730" y="1473" width="197" height="223"/><line x1="2730" y1="1498" x2="2927" y2="1498"/><line x1="2730" y1="1524" x2="2927" y2="1524"/><text class="h" x="2828" y="1491">ilGlobalTemplateInterface</text>
<text x="2738" y="1537"><tspan x="2738">+ hideFooter()</tspan><tspan x="2738" dy="14.7">+ setOnScreenMessage()</tspan><tspan x="2738" dy="14.7">+ addJavaScript()</tspan><tspan x="2738" dy="14.7">+ addOnLoadCode()</tspan><tspan x="2738" dy="14.7">+ getOnLoadCodeForAsynch()</tspan><tspan x="2738" dy="14.7">+ resetJavascript()</tspan><tspan x="2738" dy="14.7">+ fillJavaScriptFiles()</tspan><tspan x="2738" dy="14.7">+ addCss()</tspan><tspan x="2738" dy="14.7">+ addInlineCss()</tspan><tspan x="2738" dy="14.7">+ setBodyClass()</tspan><tspan x="2738" dy="14.7">and 33 more...</tspan></text></g>
<g id="n_ilCtrlTokenRepositoryInterface" class="c"><rect x="2983" y="1144" width="199" height="76"/><line x1="2983" y1="1169" x2="3182" y2="1169"/><line x1="2983" y1="1194" x2="3182" y2="1194"/><text class="h" x="3082" y="1162">ilCtrlTokenRepositoryInterface</text><text x="2991" y="1207">+ getToken()</text></g>
<g id="n_ilComponentFactory" class="c"><rect x="3207" y="1137" width="173" height="91"/><line x1="3207" y1="1162" x2="3380" y2="1162"/><line x1="3207" y1="1188" x2="3380" y2="1188"/><text class="h" x="3293" y="1155">ilComponentFactory</text><text x="3215" y="1201"><tspan x="3215">+ getPlugin()</tspan><tspan x="3215" dy="14.7">+ getActivePluginsInSlot()</tspan></text></g>
<g id="n_ilCtrlInterface" class="c"><rect x="3405" y="1056" width="179" height="252"/><line x1="3405" y1="1080" x2="3584" y2="1080"/><line x1="3405" y1="1136" x2="3584" y2="1136"/><text class="h" x="3494" y="1073">ilCtrlInterface</text>
<text x="3413" y="1093"><tspan x="3413">+ PARAM_REDIRECT</tspan><tspan x="3413" dy="14.7">+ PARAM_BASE_CLASS</tspan><tspan x="3413" dy="14.7">+ CMD_MODE_ASYNC</tspan></text>
<text x="3413" y="1149"><tspan x="3413">+ callBaseClass()</tspan><tspan x="3413" dy="14.7">+ forwardCommand()</tspan><tspan x="3413" dy="14.7">+ getHTML()</tspan><tspan x="3413" dy="14.7">+ getCmd()</tspan><tspan x="3413" dy="14.7">+ setCmd()</tspan><tspan x="3413" dy="14.7">+ getCmdClass()</tspan><tspan x="3413" dy="14.7">+ setCmdClass()</tspan><tspan x="3413" dy="14.7">+ getNextClass()</tspan><tspan x="3413" dy="14.7">+ saveParameter()</tspan><tspan x="3413" dy="14.7">+ saveParameterByClass()</tspan><tspan x="3413" dy="14.7">and 32 more...</tspan></text></g>
<g id="n_ilCtrlQueryParserInterface" class="c"><rect x="3610" y="1144" width="172" height="76"/><line x1="3610" y1="1169" x2="3782" y2="1169"/><line x1="3610" y1="1194" x2="3782" y2="1194"/><text class="h" x="3696" y="1162">ilCtrlQueryParserInterface</text><text x="3618" y="1207">+ parseQueriesOfURL()</text></g>
<g id="n_ilCtrlPathFactoryInterface" class="c"><rect x="3806" y="1130" width="171" height="105"/><line x1="3806" y1="1154" x2="3977" y2="1154"/><line x1="3806" y1="1180" x2="3977" y2="1180"/><text class="h" x="3891" y="1147">ilCtrlPathFactoryInterface</text><text x="3814" y="1193"><tspan x="3814">+ find()</tspan><tspan x="3814" dy="14.7">+ existing()</tspan><tspan x="3814" dy="14.7">+ null()</tspan></text></g>
<g id="n_ilCtrlStructureInterface" class="c"><rect x="4002" y="1070" width="186" height="223"/><line x1="4002" y1="1095" x2="4188" y2="1095"/><line x1="4002" y1="1121" x2="4188" y2="1121"/><text class="h" x="4095" y="1088">ilCtrlStructureInterface</text>
<text x="4010" y="1134"><tspan x="4010">+ isBaseClass()</tspan><tspan x="4010" dy="14.7">+ getObjNameByCid()</tspan><tspan x="4010" dy="14.7">+ getObjNameByName()</tspan><tspan x="4010" dy="14.7">+ getClassNameByCid()</tspan><tspan x="4010" dy="14.7">+ getClassCidByName()</tspan><tspan x="4010" dy="14.7">+ getRelativePathByName()</tspan><tspan x="4010" dy="14.7">+ getRelativePathByCid()</tspan><tspan x="4010" dy="14.7">+ getChildrenByCid()</tspan><tspan x="4010" dy="14.7">+ getChildrenByName()</tspan><tspan x="4010" dy="14.7">+ getParentsByCid()</tspan><tspan x="4010" dy="14.7">and 14 more...</tspan></text></g>
<g id="n_RequestWrapper" class="c"><rect x="4308" y="1130" width="146" height="105"/><line x1="4308" y1="1169" x2="4454" y2="1169"/><line x1="4308" y1="1195" x2="4454" y2="1195"/><text class="h" x="4381" y="1145"><tspan x="4381">ILIAS\HTTP\Wrapper</tspan><tspan x="4381" dy="15">\RequestWrapper</tspan></text><text x="4316" y="1208"><tspan x="4316">+ retrieve()</tspan><tspan x="4316" dy="14.7">+ has()</tspan></text></g>
<g id="n_ResponseSenderStrategy" class="c"><rect x="4479" y="1137" width="220" height="91"/><line x1="4479" y1="1177" x2="4699" y2="1177"/><line x1="4479" y1="1202" x2="4699" y2="1202"/><text class="h" x="4589" y="1152"><tspan x="4589">ILIAS\HTTP\Response</tspan><tspan x="4589" dy="15">\Sender\ResponseSenderStrategy</tspan></text><text x="4487" y="1215">+ sendResponse()</text></g>
<g id="n_ilCtrlContextInterface" class="c"><rect x="4723" y="1070" width="151" height="223"/><line x1="4723" y1="1095" x2="4874" y2="1095"/><line x1="4723" y1="1121" x2="4874" y2="1121"/><text class="h" x="4798" y="1088">ilCtrlContextInterface</text>
<text x="4731" y="1134"><tspan x="4731">+ isAsync()</tspan><tspan x="4731" dy="14.7">+ getRedirectSource()</tspan><tspan x="4731" dy="14.7">+ getPath()</tspan><tspan x="4731" dy="14.7">+ setCmdMode()</tspan><tspan x="4731" dy="14.7">+ getCmdMode()</tspan><tspan x="4731" dy="14.7">+ setBaseClass()</tspan><tspan x="4731" dy="14.7">+ getBaseClass()</tspan><tspan x="4731" dy="14.7">+ setTargetScript()</tspan><tspan x="4731" dy="14.7">+ getTargetScript()</tspan><tspan x="4731" dy="14.7">+ setCmdClass()</tspan><tspan x="4731" dy="14.7">and 7 more...</tspan></text></g>
<g id="n_ilCtrl" class="c"><rect x="4104" y="1722" width="189" height="354"/><line x1="4104" y1="1746" x2="4293" y2="1746"/><line x1="4104" y1="1771" x2="4293" y2="1771"/><text class="h" x="4198" y="1739">ilCtrl</text>
<text x="4112" y="1784"><tspan x="4112">+ __construct()</tspan><tspan x="4112" dy="14.7">+ __clone()</tspan><tspan x="4112" dy="14.7">+ callBaseClass()</tspan><tspan x="4112" dy="14.7">+ forwardCommand()</tspan><tspan x="4112" dy="14.7">+ getHTML()</tspan><tspan x="4112" dy="14.7">+ getCmd()</tspan><tspan x="4112" dy="14.7">+ setCmd()</tspan><tspan x="4112" dy="14.7">+ getCmdClass()</tspan><tspan x="4112" dy="14.7">+ setCmdClass()</tspan><tspan x="4112" dy="14.7">+ getNextClass()</tspan><tspan x="4112" dy="14.7">and 34 more...</tspan><tspan x="4112" dy="14.7">- getQueryParam()</tspan><tspan x="4112" dy="14.7">- getTableCommand()</tspan><tspan x="4112" dy="14.7">- getPostCommand()</tspan><tspan x="4112" dy="14.7">- getTargetUrl()</tspan><tspan x="4112" dy="14.7">- isCmdSecure()</tspan><tspan x="4112" dy="14.7">- appendParameterStringsBy</tspan><tspan x="4112" dy="14.7">Class()</tspan><tspan x="4112" dy="14.7">- populateCall()</tspan><tspan x="4112" dy="14.7">- getClassByObject()</tspan></text></g>
</svg>
